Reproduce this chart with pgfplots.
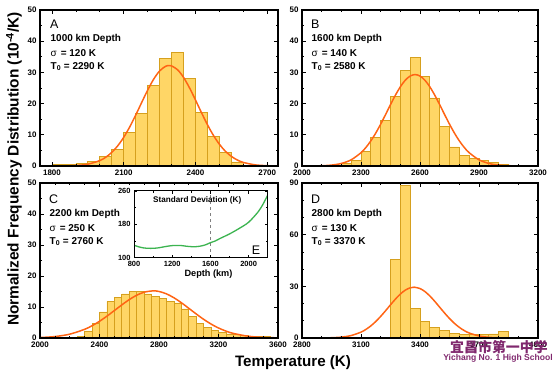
\documentclass[border=0pt]{standalone}
\usepackage{fontspec}
\setmainfont{Liberation Sans}
\newfontfamily\cjk{Noto Sans CJK SC}
\usepackage{pgfplots}
\pgfplotsset{compat=1.18}
\definecolor{barfill}{RGB}{255,214,102}
\definecolor{baredge}{RGB}{214,160,30}
\definecolor{curvec}{RGB}{255,100,20}
\definecolor{greenc}{RGB}{60,180,80}
\definecolor{wm}{RGB}{128,40,110}
\pgfplotsset{
  panel/.style={
    scale only axis, anchor=south west, axis on top,
    axis line style={line width=1.1bp},
    tick align=inside, major tick length=4bp, minor tick length=2.2bp,
    every tick/.style={black, line width=0.7bp},
    tick label style={font=\bfseries\fontsize{8}{9}\selectfont},
    /pgf/number format/assume math mode=true,
    /pgf/number format/1000 sep={},
    clip=true,
  },
  bars/.style={ybar interval, fill=barfill, draw=baredge, line width=0.7bp},
  fit/.style={curvec, line width=1.5bp, smooth, no marks},
}
\newcommand{\ann}[5]{%
  \node[anchor=west, inner sep=0, font=\fontsize{12.5}{13}\selectfont] at (#1bp-0.5bp,#2bp) {#3};
  \node[anchor=west, inner sep=0, font=\bfseries\fontsize{10}{11}\selectfont] at (#1bp,#2bp-15bp) {#4 km Depth};
  \node[anchor=west, inner sep=0, font=\bfseries\fontsize{10}{11}\selectfont] at (#1bp,#2bp-29bp) {{\mdseries σ}\hspace{4bp}= #5};
}
\begin{document}
\begin{tikzpicture}
\useasboundingbox (0,0) rectangle (554bp,374bp);
% ---------------- A ----------------
\begin{axis}[panel, at={(40bp,208bp)}, width=238bp, height=156bp,
  xmin=1750, xmax=2745, ymin=0, ymax=50,
  xtick={1800,2100,2400,2700}, ytick={0,10,20,30,40,50},
  minor x tick num=2, minor y tick num=1]
\addplot[bars] coordinates {(1800,0.5) (1850,0.6) (1900,0.8) (1950,1.5) (2000,3.2) (2050,5.4) (2100,10.7) (2150,16.8) (2200,25.9) (2250,34.5) (2300,36.4) (2350,28.2) (2400,17.1) (2450,9.6) (2500,4.3) (2550,1.3) (2600,0)};
\addplot[fit] coordinates {(1750,0.001) (1850,0.039) (1900,0.164) (1950,0.582) (2000,1.736) (2025,2.81) (2050,4.358) (2075,6.47) (2100,9.196) (2125,12.51) (2150,16.30) (2175,20.34) (2200,24.30) (2225,27.81) (2250,30.46) (2275,31.95) (2290,32.2) (2300,32.09) (2325,30.86) (2350,28.42) (2375,25.05) (2400,21.16) (2425,17.10) (2450,13.24) (2475,9.81) (2500,6.965) (2525,4.73) (2550,3.078) (2575,1.92) (2600,1.144) (2650,0.358) (2700,0.094) (2745,0.022)};
\end{axis}
% ---------------- B ----------------
\begin{axis}[panel, at={(302bp,208bp)}, width=236bp, height=156bp,
  xmin=2000, xmax=3200, ymin=0, ymax=50,
  xtick={2000,2300,2600,2900,3200}, ytick={0,10,20,30,40,50},
  minor x tick num=2, minor y tick num=1]
\addplot[bars] coordinates {(2150,0.2) (2200,0.85) (2250,1.9) (2300,4.8) (2350,9.1) (2400,14.7) (2450,22.4) (2500,30.7) (2550,34.7) (2600,28.8) (2650,21.8) (2700,12.8) (2750,6.1) (2800,3.5) (2850,2.4) (2900,1.7) (2950,1.2) (3000,0.6) (3050,0.3) (3100,0.2) (3150,0)};
\addplot[fit] coordinates {(2000,0.006) (2100,0.093) (2150,0.292) (2200,0.811) (2250,1.98) (2300,4.26) (2325,5.95) (2350,8.05) (2375,10.56) (2400,13.41) (2425,16.50) (2450,19.67) (2475,22.70) (2500,25.38) (2525,27.49) (2550,28.84) (2575,29.3) (2600,28.84) (2625,27.49) (2650,25.38) (2675,22.70) (2700,19.67) (2725,16.50) (2750,13.41) (2775,10.56) (2800,8.05) (2825,5.95) (2850,4.26) (2900,1.98) (2950,0.811) (3000,0.292) (3050,0.093) (3150,0.006) (3200,0.001)};
\end{axis}
% ---------------- C ----------------
\begin{axis}[panel, at={(40bp,36bp)}, width=238bp, height=155bp,
  xmin=2000, xmax=3600, ymin=0, ymax=50,
  xtick={2000,2400,2800,3200,3600}, ytick={0,10,20,30,40,50},
  minor x tick num=3, minor y tick num=1]
\addplot[bars] coordinates {(2250,0.6) (2300,2.3) (2350,4.8) (2400,8.4) (2450,11.7) (2500,13.2) (2550,14.2) (2600,15.1) (2650,15.0) (2700,14.2) (2750,13.5) (2800,12.8) (2850,11.7) (2900,11.3) (2950,9.4) (3000,7.0) (3050,4.7) (3100,3.3) (3150,2.4) (3200,1.7) (3250,1.3) (3300,1.2) (3350,0.85) (3400,0.6) (3450,0.5) (3500,0.4) (3550,0.3) (3600,0)};
\addplot[fit] coordinates {(2000,0.150) (2100,0.466) (2200,1.237) (2300,2.80) (2350,3.96) (2400,5.39) (2450,7.05) (2500,8.85) (2550,10.68) (2600,12.38) (2650,13.80) (2700,14.77) (2760,15.2) (2800,15.01) (2850,14.25) (2900,12.99) (2950,11.39) (3000,9.59) (3050,7.76) (3100,6.03) (3150,4.50) (3200,3.23) (3250,2.23) (3300,1.474) (3400,0.573) (3500,0.190) (3600,0.054)};
\end{axis}
% ---------------- D ----------------
\begin{axis}[panel, at={(302bp,36bp)}, width=236bp, height=155bp,
  xmin=2800, xmax=4000, ymin=0, ymax=90,
  xtick={2800,3100,3400,3700,4000}, ytick={0,30,60,90},
  minor x tick num=2, minor y tick num=2]
\addplot[bars] coordinates {(3250,45.7) (3300,88.5) (3350,17.0) (3400,9.75) (3450,6.3) (3500,4.4) (3550,2.9) (3600,2.3) (3650,2.0) (3700,2.1) (3750,2.4) (3800,3.6) (3850,0)};
\addplot[fit] coordinates {(2800,0.002) (2900,0.043) (2950,0.160) (3000,0.514) (3050,1.425) (3100,3.41) (3125,4.99) (3150,7.04) (3175,9.58) (3200,12.55) (3225,15.84) (3250,19.27) (3275,22.59) (3300,25.52) (3325,27.78) (3350,29.15) (3370,29.5) (3400,28.72) (3425,26.97) (3450,24.41) (3475,21.29) (3500,17.89) (3525,14.49) (3550,11.31) (3575,8.51) (3600,6.17) (3625,4.31) (3650,2.90) (3700,1.177) (3750,0.412) (3800,0.124) (3850,0.032) (3900,0.008)};
\end{axis}
% ---------------- E (inset) ----------------
\begin{axis}[panel, at={(134bp,116.3bp)}, width=133.7bp, height=66.7bp,
  xmin=800, xmax=2200, ymin=100, ymax=260,
  xtick={800,1200,1600,2000}, ytick={100,180,260},
  minor x tick num=1, minor y tick num=1,
  major tick length=3bp, minor tick length=1.8bp,
  axis line style={line width=1bp},
  tick label style={font=\bfseries\fontsize{7.5}{8}\selectfont},
  axis background/.style={fill=white}]
\addplot[gray, dashed, line width=0.9bp] coordinates {(1600,100) (1600,260)};
\addplot[greenc, line width=1.3bp, smooth, no marks] coordinates {(800,130) (850,126) (900,123.5) (950,122.5) (1000,122.5) (1050,123.5) (1100,125.5) (1150,127.5) (1200,129) (1250,129.5) (1300,129) (1350,127.5) (1400,126.5) (1450,126.5) (1500,128) (1550,131) (1600,136) (1650,140) (1700,146) (1800,157) (1900,170) (2000,185) (2100,210) (2150,228) (2200,250)};
\end{axis}
\node[anchor=west, inner sep=0, font=\bfseries\fontsize{8.2}{9}\selectfont] at (153bp,174bp) {Standard Deviation (K)};
\node[anchor=center, inner sep=0, font=\fontsize{12.5}{13}\selectfont] at (256bp,124bp) {E};
\node[inner sep=0, font=\bfseries\fontsize{9.2}{10}\selectfont] at (208.5bp,100bp) {Depth (km)};
% ---------------- annotations ----------------
\ann{50.5}{350}{A}{1000}{120 K}
\node[anchor=west, inner sep=0, font=\bfseries\fontsize{10}{11}\selectfont] at (50.5bp,307.5bp) {T\textsubscript{0} = 2290 K};
\ann{311.5}{350}{B}{1600}{140 K}
\node[anchor=west, inner sep=0, font=\bfseries\fontsize{10}{11}\selectfont] at (311.5bp,307.5bp) {T\textsubscript{0} = 2580 K};
\ann{49.5}{175}{C}{2200}{250 K}
\node[anchor=west, inner sep=0, font=\bfseries\fontsize{10}{11}\selectfont] at (49.5bp,132.5bp) {T\textsubscript{0} = 2760 K};
\ann{311.5}{175}{D}{2800}{130 K}
\node[anchor=west, inner sep=0, font=\bfseries\fontsize{10}{11}\selectfont] at (311.5bp,132.5bp) {T\textsubscript{0} = 3370 K};
% ---------------- axis titles ----------------
\node[rotate=90, inner sep=0, font=\bfseries\fontsize{15.5}{16}\selectfont] at (14bp,205bp) {Normalized Frequency Distribution (10\textsuperscript{-4}/K)};
\node[inner sep=0, font=\bfseries\fontsize{15.2}{16}\selectfont] at (293bp,11bp) {Temperature (K)};
% ---------------- watermark ----------------
\node[inner sep=0, text=wm, font=\cjk\bfseries\fontsize{14}{14}\selectfont] at (499bp,27bp) {宜昌市第一中学};
\node[inner sep=0, text=wm, font=\bfseries\fontsize{8.6}{9}\selectfont] at (498bp,16bp) {Yichang No. 1 High School};
\end{tikzpicture}
\end{document}
